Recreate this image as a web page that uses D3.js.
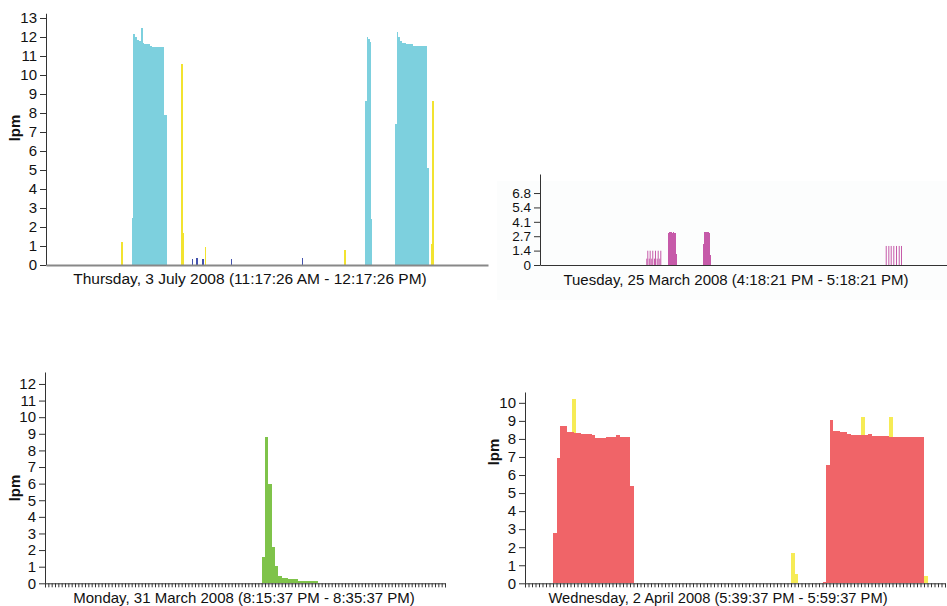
<!DOCTYPE html>
<html>
<head>
<meta charset="utf-8">
<script src="https://cdn.jsdelivr.net/npm/d3@7"></script>
<style>
  body { margin: 0; background: #fff; }
  svg { display: block; font-family: "Liberation Sans", Arial, sans-serif; }
  .tick text { font-size: 15px; fill: #111; }
  .title { font-size: 15px; fill: #111; }
  .ylab { font-size: 15px; font-weight: bold; fill: #111; }
</style>
</head>
<body>
<svg id="chart" width="947" height="606"></svg>
<script>
// values are [start second, end second, lpm] runs or [second, lpm] samples

// Thursday 3 July 2008, one hour window
var julyCyan = [
  [698, 711, 2.5], [711, 727, 12.14], [727, 743, 12.0], [743, 760, 11.85], [760, 776, 11.8],
  [776, 787, 12.5], [787, 801, 11.7], [801, 847, 11.63], [847, 864, 11.55], [864, 920, 11.5],
  [920, 928, 11.45], [928, 944, 11.5], [944, 952, 11.45], [952, 964, 11.5], [964, 983, 7.9],
  [2598, 2612, 8.65], [2612, 2623, 12.0], [2623, 2635, 11.9], [2635, 2645, 11.75], [2645, 2658, 2.4],
  [2845, 2859, 7.4], [2859, 2870, 12.28], [2870, 2883, 12.0], [2883, 2900, 11.8], [2900, 2932, 11.7],
  [2932, 2989, 11.63], [2989, 3106, 11.53], [3106, 3117, 5.1]
];
var julyYellow = [[611, 1.2], [1098, 10.6], [1112, 1.7], [1293, 0.93], [2427, 0.8], [3132, 1.1], [3144, 8.63]];
var julyBlue = [[1189, 0.3], [1222, 0.35], [1273, 0.3], [1504, 0.3], [2083, 0.35]];

// Tuesday 25 March 2008, one hour window
var marchShort = [[940, 0.6], [962, 0.6], [984, 0.6], [1008, 0.6], [1032, 0.6], [1055, 0.6]];
var marchSpikes = [[949, 1.35], [970, 1.35], [993, 1.35], [1017, 1.35], [1041, 1.35], [1064, 1.35]];
var marchBursts = [
  [1135, 3.0], [1143, 3.15], [1151, 3.12], [1159, 3.15], [1167, 3.05], [1175, 3.1], [1183, 3.05], [1191, 3.0], [1199, 1.0],
  [1443, 1.98], [1451, 3.15], [1459, 3.1], [1467, 3.15], [1475, 3.08], [1483, 3.12], [1491, 3.0], [1499, 2.95], [1507, 0.9]
];
var marchLate = [[3058, 1.8], [3081, 1.8], [3102, 1.8], [3125, 1.8], [3149, 1.8], [3173, 1.8], [3193, 1.8]];
var marchTicks = [0, 1.36, 2.72, 4.08, 5.44, 6.8];

// Monday 31 March 2008, twenty minutes in 10 s bins
var mondayGreen = [
  [650, 1.6], [660, 8.83], [670, 5.96], [680, 2.2], [690, 1.06], [700, 0.46], [710, 0.34], [720, 0.34],
  [730, 0.24], [740, 0.24], [750, 0.24], [760, 0.16], [770, 0.16], [780, 0.16], [790, 0.16], [800, 0.16], [810, 0.16]
];

// Wednesday 2 April 2008, twenty minutes in 10 s bins
var aprilRed = [
  [80, 2.77], [90, 6.96], [100, 8.73], [110, 8.73], [120, 8.4], [130, 8.4], [140, 8.35], [150, 8.32],
  [160, 8.3], [170, 8.25], [180, 8.28], [190, 8.2], [200, 8.05], [210, 8.05], [220, 8.05], [230, 8.1],
  [240, 8.1], [250, 8.1], [260, 8.22], [270, 8.12], [280, 8.12], [290, 8.12], [300, 5.39],
  [850, 0.05], [860, 6.55], [870, 9.04], [880, 8.43], [890, 8.43], [900, 8.38], [910, 8.38], [920, 8.3],
  [930, 8.23], [940, 8.23], [950, 8.19], [960, 8.19], [970, 8.19], [980, 8.27], [990, 8.17], [1000, 8.17],
  [1010, 8.17], [1020, 8.17], [1030, 8.17], [1040, 8.08], [1050, 8.08], [1060, 8.08], [1070, 8.12],
  [1080, 8.08], [1090, 8.08], [1100, 8.08], [1110, 8.12], [1120, 8.08], [1130, 8.08]
];
var aprilYellow = [[135, 10.2], [760, 1.66], [770, 0.5], [960, 9.22], [1040, 9.22], [1140, 0.4]];

var svg = d3.select("#chart");

// draws [t, v] samples of fixed width, or [t0, t1, v] runs
function bars(g, x, y, s) {
  var w = s.w;
  g.append("g")
    .attr("shape-rendering", s.soft ? "auto" : "crispEdges")
    .selectAll("rect")
    .data(s.data)
    .join("rect")
      .attr("x", function(d) { return x(d[0]); })
      .attr("width", function(d) { return Math.max(1, x(d.length == 3 ? d[1] : d[0] + w) - x(d[0])); })
      .attr("y", function(d) { return y(d[d.length - 1]); })
      .attr("height", function(d) { return y(0) - y(d[d.length - 1]); })
      .attr("fill", s.color);
}

function panel(opt) {
  var x = d3.scaleLinear().domain([0, opt.span]).range(opt.xr);
  var y = d3.scaleLinear().domain([0, opt.ymax]).range(opt.yr);
  var g = svg.append("g");

  if (opt.bg) {
    g.append("rect").attr("x", opt.bg[0]).attr("y", opt.bg[1])
      .attr("width", opt.bg[2]).attr("height", opt.bg[3]).attr("fill", "#fcfdfd");
  }

  opt.series.forEach(function(s) { bars(g, x, y, s); });

  var yAxis = d3.axisLeft(y).tickSizeOuter(0);
  if (opt.yticks) yAxis.tickValues(opt.yticks).tickFormat(d3.format(".1f"));
  else yAxis.ticks(opt.ymax > 12 ? 13 : 10).tickFormat(d3.format("d"));
  var ya = g.append("g").attr("transform", "translate(" + opt.xr[0] + ",0)").call(yAxis);
  ya.selectAll("path, line").attr("stroke", "#333");
  ya.selectAll(".tick text").filter(function(d) { return d === 0; }).text("0");
  if (opt.tickFont) ya.selectAll(".tick text").style("font-size", opt.tickFont + "px");

  var xAxis = d3.axisBottom(x).tickSizeOuter(0);
  if (opt.minorTicks) xAxis.tickValues(d3.range(0, opt.span + 1, 10)).tickFormat("").tickSize(4);
  else xAxis.tickValues([]);
  var xa = g.append("g").attr("transform", "translate(0," + opt.yr[0] + ")").call(xAxis);
  xa.select(".domain").attr("stroke", opt.axisColor).attr("stroke-width", opt.axisWidth);
  xa.selectAll(".tick line").attr("stroke", "#333");

  g.append("text").attr("class", "title")
    .attr("x", opt.title[1]).attr("y", opt.title[2])
    .attr("text-anchor", "middle").style("font-size", opt.title[3] + "px")
    .text(opt.title[0]);

  if (opt.ylab) {
    g.append("text").attr("class", "ylab")
      .attr("transform", "translate(" + opt.ylab[0] + "," + opt.ylab[1] + ")rotate(-90)")
      .attr("text-anchor", "middle")
      .text("lpm");
  }
}

panel({
  span: 3600, xr: [46, 488], ymax: 13.25, yr: [265, 13.25],
  series: [
    {data: julyCyan, color: "#7dd0de"},
    {data: julyYellow, w: 14, color: "#f2e330"},
    {data: julyBlue, w: 12, color: "#4453ad"}
  ],
  axisColor: "#888", axisWidth: 2,
  title: ["Thursday, 3 July 2008 (11:17:26 AM - 12:17:26 PM)", 250, 284, 15.5],
  ylab: [20, 128]
});

panel({
  span: 3600, xr: [540, 947], ymax: 8.6, yr: [265, 174],
  yticks: marchTicks, bg: [497, 181, 450, 119], tickFont: 13.5,
  series: [
    {data: marchShort, w: 6, color: "#c65aa9", soft: true},
    {data: marchSpikes, w: 6, color: "#c65aa9", soft: true},
    {data: marchBursts, w: 8, color: "#c65aa9"},
    {data: marchLate, w: 5, color: "#c65aa9", soft: true}
  ],
  axisColor: "#333", axisWidth: 1.2,
  title: ["Tuesday, 25 March 2008 (4:18:21 PM - 5:18:21 PM)", 736, 285, 15]
});

panel({
  span: 1200, xr: [45, 445], ymax: 12.72, yr: [583.3, 372], minorTicks: true,
  series: [{data: mondayGreen, w: 10, color: "#7fc34a"}],
  axisColor: "#333", axisWidth: 1,
  title: ["Monday, 31 March 2008 (8:15:37 PM - 8:35:37 PM)", 244, 603, 15],
  ylab: [20, 488]
});

panel({
  span: 1200, xr: [525, 945], ymax: 10.6, yr: [583.3, 392], minorTicks: true,
  series: [
    {data: aprilYellow, w: 10, color: "#f6eb55"},
    {data: aprilRed, w: 10, color: "#f06468"}
  ],
  axisColor: "#333", axisWidth: 1,
  title: ["Wednesday, 2 April 2008 (5:39:37 PM - 5:59:37 PM)", 718, 603, 14.7],
  ylab: [499, 452]
});
</script>
</body>
</html>
